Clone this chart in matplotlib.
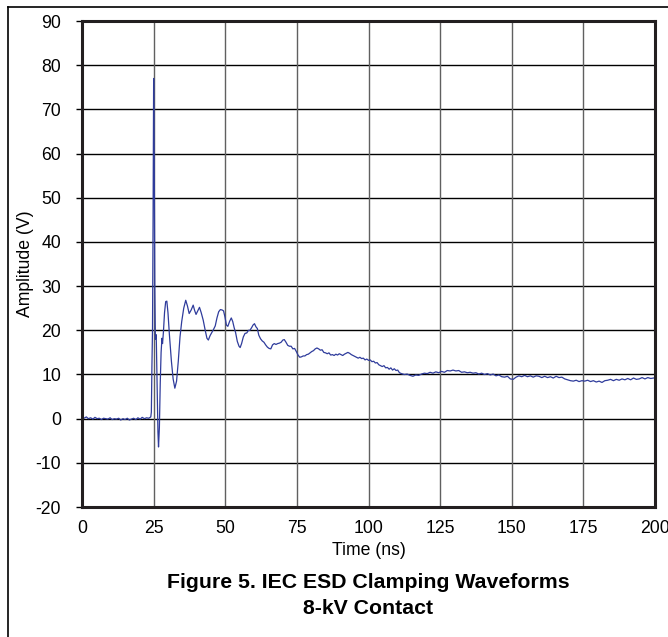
import matplotlib
matplotlib.use("Agg")
import matplotlib.pyplot as plt
from matplotlib.lines import Line2D

plt.rcParams['font.family'] = ['Liberation Sans', 'DejaVu Sans']
plt.rcParams['axes.unicode_minus'] = False

# waveform
time_ns = [
    0, 0.7, 1.5, 2.2, 3, 3.8, 4.5, 5.3, 6, 6.8, 7.5, 8.3, 9, 9.8, 10.5, 11.3, 12, 12.8,
    13.5, 14.3, 15, 15.8, 16.5, 17.3, 18, 18.8, 19.5, 20.3, 21, 21.8, 22.5, 23.3, 24.0,
    24.2, 24.4, 24.6, 24.8, 25.0, 25.2, 25.4, 25.6, 25.9, 26.2, 26.5, 26.7, 27.0, 27.3,
    27.6, 27.9, 28.1, 28.4, 28.8, 29.2, 29.6, 30.0, 30.5, 31.2, 31.8, 32.4, 33.0, 33.6,
    34.2, 34.8, 35.5, 36.2, 36.8, 37.4, 38.1, 38.8, 39.3, 39.8, 40.4, 41.0, 41.6, 42.3,
    43.0, 43.6, 44.1, 44.7, 45.3, 45.9, 46.5, 47.1, 47.7, 48.3, 48.9, 49.4, 49.9, 50.4,
    50.9, 51.5, 52.1, 52.6, 53.1, 53.6, 54.2, 54.8, 55.2, 55.7, 56.3, 56.9, 57.5, 58.1,
    58.6, 59.2, 59.7, 60.2, 60.7, 61.2, 61.7, 62.3, 62.9, 63.5, 64.1, 64.7, 65.3, 65.9,
    66.5, 67.1, 67.7, 68.3, 68.9, 69.5, 70.1, 70.6, 71.2, 71.8, 72.4, 73.0, 73.6, 74.2,
    74.8, 75.4, 76.0, 76.6, 77.2, 77.8, 78.4, 79.0, 79.6, 80.2, 80.8, 81.4, 82.0, 82.6,
    83.2, 83.8, 84.4, 85.0, 85.6, 86.2, 86.8, 87.4, 88.0, 88.6, 89.2, 89.8, 90.4, 91.0,
    91.6, 92.2, 92.8, 93.4, 94.0, 94.6, 95.2, 95.8, 96.4, 97.0, 97.6, 98.2, 98.8, 99.4,
    100.0, 100.6, 101.2, 101.8, 102.4, 103.0, 103.6, 104.2, 104.8, 105.4, 106.0, 106.6,
    107.2, 107.8, 108.4, 109.0, 109.6, 110.2, 110.8, 111.5, 112.5, 113.5, 114.5, 115.5,
    116.5, 117.5, 118.5, 119.5, 120.5, 121.5, 122.5, 123.5, 124.5, 125.5, 126.5, 127.5,
    128.5, 129.5, 130.5, 131.5, 132.5, 133.5, 134.5, 135.5, 136.5, 137.5, 138.5, 139.5,
    140.5, 141.5, 142.5, 143.5, 144.5, 145.5, 146.5, 147.5, 148.5, 149.5, 150.5, 151.5,
    152.5, 153.5, 154.5, 155.5, 156.5, 157.5, 158.5, 159.5, 160.5, 161.5, 162.5, 163.5,
    164.5, 165.5, 166.5, 167.5, 168.5, 169.5, 170.5, 171.5, 172.5, 173.5, 174.5, 175.5,
    176.5, 177.5, 178.5, 179.5, 180.5, 181.5, 182.5, 183.5, 184.5, 185.5, 186.5, 187.5,
    188.5, 189.5, 190.5, 191.5, 192.5, 193.5, 194.5, 195.5, 196.5, 197.5, 198.5, 199.5,
    200,
]
amplitude_v = [
    0.3, 0.1, 0.4, 0.0, 0.2, -0.1, 0.3, 0.0, 0.1, -0.2, 0.1, 0.0, -0.1, 0.2, -0.2, 0.0,
    -0.1, 0.1, -0.3, 0.0, -0.2, 0.1, -0.3, -0.1, 0.1, -0.2, 0.2, -0.1, 0.3, 0.0, 0.2, 0.1,
    0.4,
    1.5, 12, 20, 45, 77, 60, 30, 18, 19, 8, -3, -6.4, -2, 8,
    15, 18.2, 17.0, 19.5, 24, 26.5, 26.6, 24, 19, 13, 9, 6.9, 8.5, 13,
    18.5, 22, 25, 26.8, 25.5, 23.8, 24.6, 25.7, 24.5, 23.6, 24.4, 25.2, 24.0, 22.3,
    20.0, 18.2, 17.8, 18.8, 19.5, 20.2, 21.0, 22.8, 24.2, 24.7, 24.6, 24.4, 23.0, 21.2,
    20.9, 22.0, 22.8, 22.0, 20.6, 19.5, 17.5, 16.4, 16.1, 17.0, 18.5, 19.3, 19.4, 20.0,
    20.0, 20.6, 21.2, 21.5, 20.8, 20.4, 18.9, 18.1, 17.6, 17.3, 16.7, 16.2, 15.9, 15.8,
    16.7, 17.0, 16.8, 17.0, 17.1, 17.3, 17.8, 17.9, 17.3, 16.6, 16.4, 16.4, 15.8, 15.9,
    15.2, 14.4, 13.9, 14.0, 14.2, 14.2, 14.5, 14.6, 14.9, 15.2, 15.4, 15.8, 16.0, 15.8,
    15.5, 15.6, 15.0, 14.9, 14.7, 14.9, 14.4, 14.5, 14.3, 14.6, 14.4, 14.7, 14.5, 14.3,
    14.6, 14.8, 15.0, 14.8, 14.5, 14.3, 14.1, 13.9, 13.7, 13.9, 13.6, 13.7, 13.3, 13.5,
    13.2, 13.3, 12.9, 13.0, 12.6, 12.7, 12.2, 12.0, 11.8, 12.0, 11.5, 11.6,
    11.2, 11.5, 11.0, 11.3, 10.9, 11.0, 10.4, 10.2, 10.0, 10.1, 9.8, 9.6,
    9.9, 9.8, 10.1, 10.3, 10.2, 10.5, 10.3, 10.6, 10.4, 10.7, 10.5, 10.9,
    10.8, 11.0, 10.8, 10.9, 10.5, 10.6, 10.4, 10.5, 10.3, 10.4, 10.1, 10.3,
    10.0, 10.2, 9.9, 10.1, 9.7, 9.9, 9.5, 9.4, 9.6, 9.0, 8.9, 9.4,
    9.7, 9.5, 9.8, 9.5, 9.7, 9.4, 9.7, 9.6, 9.3, 9.6, 9.3, 9.5,
    9.2, 9.6, 9.3, 9.4, 9.0, 8.8, 8.6, 8.5, 8.7, 8.4, 8.6, 8.5,
    8.7, 8.4, 8.6, 8.3, 8.5, 8.2, 8.6, 8.7, 8.9, 8.6, 8.9, 8.7,
    9.0, 8.8, 9.1, 8.8, 9.2, 8.9, 9.0, 9.3, 9.0, 9.3, 9.1, 9.2,
    9.3,
]

x_ticks = [0, 25, 50, 75, 100, 125, 150, 175, 200]
y_ticks = [-20, -10, 0, 10, 20, 30, 40, 50, 60, 70, 80, 90]

fig = plt.figure(figsize=(6.68, 6.37), dpi=100)
ax = fig.add_axes([0.1228, 0.204, 0.8577, 0.763])

for y in y_ticks:
    ax.axhline(y, color='black', lw=1.0, zorder=1)
for x in x_ticks:
    ax.axvline(x, color='#606060', lw=1.0, zorder=1)

ax.plot(time_ns, amplitude_v, color='#2f3c9c', lw=0.9, zorder=2)

ax.set_xlim(0, 200)
ax.set_ylim(-20, 90)
ax.set_xticks(x_ticks)
ax.set_yticks(y_ticks)
ax.tick_params(axis='x', length=0, pad=9, labelsize=12.7)
ax.tick_params(axis='y', length=4, width=1, pad=11, labelsize=12.7)
for s in ax.spines.values():
    s.set_linewidth(2.2)
    s.set_color('#231f20')

ax.set_xlabel('Time (ns)', fontsize=12.7, labelpad=4)
ax.set_ylabel('Amplitude (V)', fontsize=12.7)
ax.yaxis.set_label_coords(-0.084, 0.5)

fig.text(0.551, 0.085, 'Figure 5. IEC ESD Clamping Waveforms', ha='center', va='center',
         fontsize=15.3, fontweight='bold')
fig.text(0.551, 0.044, '8-kV Contact', ha='center', va='center',
         fontsize=15.3, fontweight='bold')

# outer frame (left and top edges visible)
fig.add_artist(Line2D([8 / 668, 8 / 668], [0, 1 - 7 / 637], color='black', lw=1.2))
fig.add_artist(Line2D([8 / 668, 1], [1 - 7 / 637, 1 - 7 / 637], color='black', lw=1.2))

fig.savefig('out.png', dpi=100)
